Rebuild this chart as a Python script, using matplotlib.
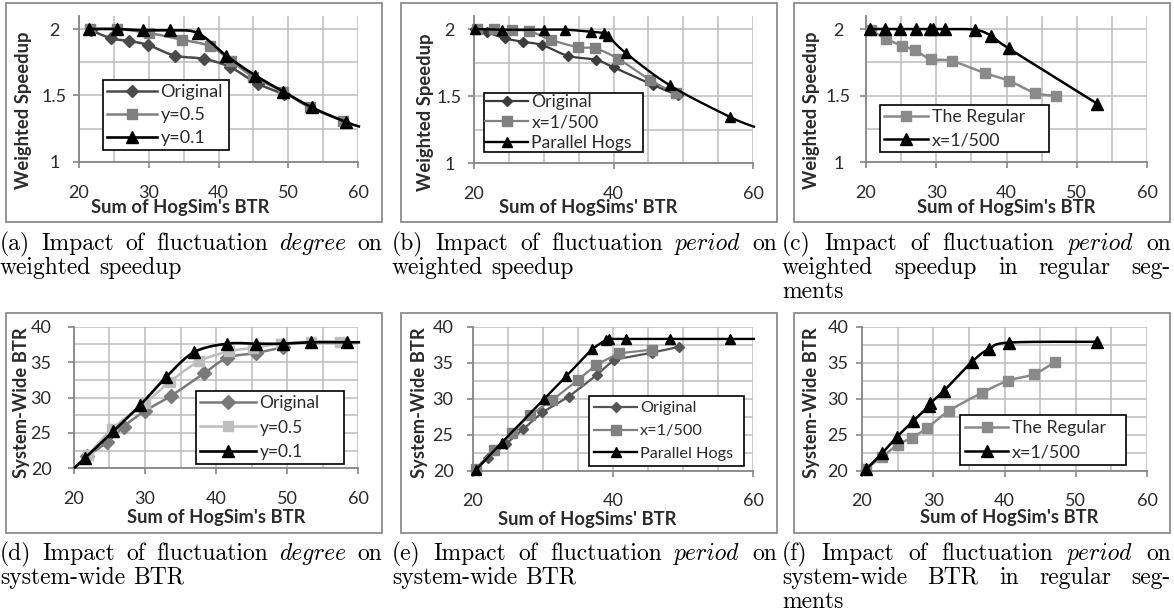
import numpy as np
import matplotlib
matplotlib.use("Agg")
import matplotlib.pyplot as plt
from matplotlib.lines import Line2D
from matplotlib.patches import Rectangle

# ---------------- data ----------------
# (a) fluctuation degree -> weighted speedup
A_ORIG_X = [21.7, 24.6, 27.1, 29.9, 33.7, 37.9, 41.6, 45.6, 49.4]
A_ORIG_Y = [1.99, 1.93, 1.91, 1.88, 1.80, 1.775, 1.715, 1.59, 1.51]
A_Y05_X = [21.6, 25.4, 30.0, 34.7, 38.8, 41.8, 45.0, 49.2, 53.1, 57.9]
A_Y05_Y = [2.0, 2.0, 1.97, 1.92, 1.87, 1.76, 1.64, 1.53, 1.41, 1.31]
A_Y01_X = [21.4, 25.5, 29.2, 33.0, 37.0, 41.1, 45.3, 49.3, 53.4, 58.3, 60.3]
A_Y01_Y = [2.0, 2.0, 1.99, 1.99, 1.97, 1.80, 1.65, 1.53, 1.41, 1.30, 1.265]

# (b) fluctuation period -> weighted speedup
B_ORIG_X = [20.2, 21.9, 24.5, 27.0, 29.8, 33.5, 37.5, 40.0, 45.6, 49.3]
B_ORIG_Y = [2.0, 1.975, 1.93, 1.905, 1.88, 1.80, 1.77, 1.715, 1.585, 1.505]
B_X500_X = [20.4, 22.9, 25.4, 27.9, 31.0, 34.9, 37.4, 40.6, 45.3, 48.9]
B_X500_Y = [2.0, 2.0, 1.99, 1.985, 1.92, 1.865, 1.855, 1.78, 1.62, 1.52]
B_PH_X = [20.2, 24.0, 30.0, 33.1, 36.8, 38.7, 39.2, 41.8, 48.1, 56.7, 60.3]
B_PH_Y = [2.0, 1.995, 1.995, 1.995, 1.98, 1.97, 1.95, 1.82, 1.58, 1.345, 1.27]

# (c) fluctuation period -> weighted speedup, regular segments
C_REG_X = [20.7, 22.9, 25.1, 27.0, 29.2, 32.2, 36.9, 40.4, 44.1, 47.0]
C_REG_Y = [1.99, 1.925, 1.875, 1.84, 1.775, 1.76, 1.67, 1.61, 1.52, 1.50]
C_X500_X = [20.5, 22.7, 24.9, 27.1, 29.1, 29.5, 31.3, 35.5, 37.8, 40.3, 52.9]
C_X500_Y = [2.0, 2.0, 2.0, 2.0, 2.0, 2.0, 2.0, 1.995, 1.95, 1.855, 1.44]

# (d) fluctuation degree -> system-wide BTR
D_ORIG_X = [21.9, 24.7, 27.0, 30.0, 33.6, 38.3, 41.6, 45.7, 49.4]
D_ORIG_Y = [21.8, 23.7, 25.9, 28.1, 30.2, 33.4, 35.6, 36.3, 37.1]
D_Y05_X = [20.0, 22.0, 25.4, 30.0, 33.5, 37.6, 41.8, 45.2, 49.1, 53.4, 57.4]
D_Y05_Y = [20.0, 21.9, 25.6, 29.2, 32.2, 35.1, 36.5, 37.0, 37.6, 37.9, 37.9]
D_Y01_X = [20.0, 21.5, 25.5, 29.3, 33.0, 36.9, 41.6, 45.7, 49.4, 53.4, 58.4, 60.3]
D_Y01_Y = [20.0, 21.4, 25.2, 28.9, 32.9, 36.4, 37.6, 37.6, 37.6, 37.8, 37.8, 37.8]

# (e) fluctuation period -> system-wide BTR
E_ORIG_X = [20.4, 22.1, 24.7, 27.2, 29.9, 33.7, 37.7, 40.1, 45.6, 49.4]
E_ORIG_Y = [20.2, 21.7, 23.7, 25.8, 28.1, 30.3, 33.3, 35.4, 36.4, 37.2]
E_X500_X = [20.4, 23.0, 25.6, 28.1, 31.3, 35.0, 37.6, 40.8, 45.5]
E_X500_Y = [20.3, 22.9, 25.3, 27.7, 29.8, 32.6, 34.7, 36.3, 36.8]
E_PH_X = [20.4, 24.1, 30.1, 33.3, 37.0, 39.0, 39.4, 41.9, 48.1, 56.7, 60.3]
E_PH_Y = [20.1, 23.9, 29.9, 33.1, 36.9, 38.2, 38.3, 38.3, 38.3, 38.3, 38.3]

# (f) fluctuation period -> system-wide BTR, regular segments
F_REG_X = [20.6, 22.8, 25.0, 27.0, 29.1, 32.2, 36.8, 40.5, 44.1, 47.1]
F_REG_Y = [20.3, 21.9, 23.6, 24.6, 25.9, 28.3, 30.8, 32.5, 33.4, 35.1]
F_X500_X = [20.6, 22.8, 24.9, 27.2, 29.4, 29.6, 31.5, 35.4, 37.8, 40.7, 53.0]
F_X500_Y = [20.2, 22.4, 24.7, 26.9, 29.0, 29.4, 31.1, 35.1, 36.9, 37.8, 37.9]

X_TICKS_FULL = [20, 30, 40, 50, 60]
X_TICKS_SPARSE = [20, 40, 60]
Y_TICKS_SPEEDUP = [1, 1.5, 2]
Y_TICK_LABELS_SPEEDUP = ["1", "1.5", "2"]
Y_TICKS_BTR = [20, 25, 30, 35, 40]

CAPTIONS = {
    "a": ["(a) Impact of fluctuation *degree* on", "weighted speedup"],
    "b": ["(b) Impact of fluctuation *period* on", "weighted speedup"],
    "c": ["(c) Impact of fluctuation *period* on", "weighted speedup in regular seg-", "ments"],
    "d": ["(d) Impact of fluctuation *degree* on", "system-wide BTR"],
    "e": ["(e) Impact of fluctuation *period* on", "system-wide BTR"],
    "f": ["(f) Impact of fluctuation *period* on", "system-wide BTR in regular seg-", "ments"],
}

# ---------------- figure ----------------
W, H = 1174, 616
plt.rcParams["font.family"] = ["Lato", "DejaVu Sans"]
fig = plt.figure(figsize=(W / 100, H / 100), dpi=100)
fig.patch.set_facecolor("white")
renderer = fig.canvas.get_renderer()


def fx(px):
    return px / W


def fy(py):
    return 1 - py / H


def text_size(s, fs, **kw):
    t = fig.text(0, 0, s, fontsize=fs, **kw)
    bb = t.get_window_extent(renderer)
    t.remove()
    return bb.width, bb.height


def cr_smooth(x, y, n=14):
    x = np.asarray(x, float)
    y = np.asarray(y, float)
    if len(x) < 3:
        return x, y
    P = np.column_stack([x, y])
    P = np.vstack([P[0], P, P[-1]])
    t = np.linspace(0, 1, n, endpoint=False)[:, None]
    out = []
    for i in range(1, len(P) - 2):
        p0, p1, p2, p3 = P[i - 1], P[i], P[i + 1], P[i + 2]
        pts = 0.5 * (2 * p1 + (-p0 + p2) * t + (2 * p0 - 5 * p1 + 4 * p2 - p3) * t ** 2
                     + (-p0 + 3 * p1 - 3 * p2 + p3) * t ** 3)
        out.append(pts)
    out.append(P[-2][None, :])
    out = np.vstack(out)
    return out[:, 0], out[:, 1]


DKG = "#4a4a4a"
MDG = "#808080"
LTG = "#bdbdbd"
BLK = "#000000"

# legend layout: (left px, top px, box width px, widest label, its width px, handle px, row pitch px, first row centre px)
# series: (x, y, label, color, marker, ms, lw, first_marker, last_marker_exclusive)
PANELS = [
    dict(key="a", box=(6, 3, 382, 222), area=(79, 15.7, 358, 162), ylim=(1, 2.1),
         yt=Y_TICKS_SPEEDUP, ytl=Y_TICK_LABELS_SPEEDUP, yminor=0.25, xt=X_TICKS_FULL,
         ylab="Weighted Speedup", ylab_pos=(24, 110), xlab="Sum of HogSim's BTR", xlab_pos=(180, 208),
         ytick_pad=13.7, ytick_ha="center", smooth=True,
         leg=(103, 80, 126, "Original", 62, 52, 23, 92),
         series=[(A_ORIG_X, A_ORIG_Y, "Original", DKG, "D", 5.8, 1.8, 0, None),
                 (A_Y05_X, A_Y05_Y, "y=0.5", MDG, "s", 6.5, 1.8, 0, None),
                 (A_Y01_X, A_Y01_Y, "y=0.1", BLK, "^", 8.0, 1.9, 0, -1)]),
    dict(key="b", box=(401, 3, 777, 222), area=(474, 15.6, 753, 163.3), ylim=(1, 2.1),
         yt=Y_TICKS_SPEEDUP, ytl=Y_TICK_LABELS_SPEEDUP, yminor=0.25, xt=X_TICKS_SPARSE,
         ylab="Weighted Speedup", ylab_pos=(425, 112), xlab="Sum of HogSims' BTR", xlab_pos=(588, 208),
         ytick_pad=13.7, ytick_ha="center", smooth=True,
         leg=(484, 93, 159, "Parallel Hogs", 100, 45, 20.5, 102),
         series=[(B_ORIG_X, B_ORIG_Y, "Original", "#3c3c3c", "D", 4.6, 1.6, 0, None),
                 (B_X500_X, B_X500_Y, "x=1/500", MDG, "s", 6.5, 1.6, 0, None),
                 (B_PH_X, B_PH_Y, "Parallel Hogs", BLK, "^", 7.5, 1.7, 0, -1)]),
    dict(key="c", box=(794, 3, 1170, 222), area=(866, 15.7, 1147, 162.3), ylim=(1, 2.1),
         yt=Y_TICKS_SPEEDUP, ytl=Y_TICK_LABELS_SPEEDUP, yminor=0.25, xt=X_TICKS_FULL,
         ylab="Weighted Speedup", ylab_pos=(812, 110), xlab="Sum of HogSim's BTR", xlab_pos=(1006, 207),
         ytick_pad=15.8, ytick_ha="center", smooth=True,
         leg=(880, 105, 169, "The Regular", 93, 46, 23, 117),
         series=[(C_REG_X, C_REG_Y, "The Regular", "#8a8a8a", "s", 6.5, 1.8, 0, None),
                 (C_X500_X, C_X500_Y, "x=1/500", BLK, "^", 8.0, 1.8, 0, None)]),
    dict(key="d", box=(6, 313, 382, 533), area=(74, 326.7, 358, 468.3), ylim=(20, 40),
         yt=Y_TICKS_BTR, ytl=[str(v) for v in Y_TICKS_BTR], yminor=2.5, xt=X_TICKS_FULL,
         ylab="System-Wide BTR", ylab_pos=(22, 403), xlab="Sum of HogSim's BTR", xlab_pos=(216, 518),
         ytick_pad=12.2, ytick_ha="right", smooth=True,
         leg=(196, 391, 148, "Original", 60, 58, 24.5, 403),
         series=[(D_ORIG_X, D_ORIG_Y, "Original", "#7a7a7a", "D", 6.8, 1.8, 0, None),
                 (D_Y05_X, D_Y05_Y, "y=0.5", LTG, "s", 6.8, 1.8, 1, None),
                 (D_Y01_X, D_Y01_Y, "y=0.1", BLK, "^", 8.0, 1.9, 1, -1)]),
    dict(key="e", box=(401, 313, 777, 533), area=(473, 326.7, 753, 470.7), ylim=(20, 40),
         yt=Y_TICKS_BTR, ytl=[str(v) for v in Y_TICKS_BTR], yminor=2.5, xt=X_TICKS_SPARSE,
         ylab="System-Wide BTR", ylab_pos=(420, 403), xlab="Sum of HogSims' BTR", xlab_pos=(587, 519),
         ytick_pad=10.0, ytick_ha="right", smooth=False,
         leg=(589, 396, 155, "Parallel Hogs", 93, 45, 22.5, 408),
         series=[(E_ORIG_X, E_ORIG_Y, "Original", "#555555", "D", 5.0, 1.6, 0, None),
                 (E_X500_X, E_X500_Y, "x=1/500", MDG, "s", 7.0, 1.6, 0, None),
                 (E_PH_X, E_PH_Y, "Parallel Hogs", BLK, "^", 6.5, 1.7, 0, -1)]),
    dict(key="f", box=(794, 313, 1170, 533), area=(862, 326.7, 1147, 470.7), ylim=(20, 40),
         yt=Y_TICKS_BTR, ytl=[str(v) for v in Y_TICKS_BTR], yminor=2.5, xt=X_TICKS_FULL,
         ylab="System-Wide BTR", ylab_pos=(812, 403), xlab="Sum of HogSim's BTR", xlab_pos=(1009, 518),
         ytick_pad=5.8, ytick_ha="right", smooth=True,
         leg=(960, 415, 166, "The Regular", 94, 45, 24, 428),
         series=[(F_REG_X, F_REG_Y, "The Regular", "#8a8a8a", "s", 6.5, 1.8, 0, None),
                 (F_X500_X, F_X500_Y, "x=1/500", BLK, "^", 8.0, 1.8, 0, None)]),
]

AXIS_C = "#868686"
GRID_C = "#bcbcbc"
TXT_C = "#2b2b2b"

for p in PANELS:
    bx0, by0, bx1, by1 = p["box"]
    fig.add_artist(Rectangle((fx(bx0), fy(by1)), (bx1 - bx0) / W, (by1 - by0) / H,
                             transform=fig.transFigure, fill=False, ec="#8c8c8c", lw=1.3))
    ax0, ay0, ax1, ay1 = p["area"]
    ax = fig.add_axes([fx(ax0), fy(ay1), (ax1 - ax0) / W, (ay1 - ay0) / H])
    ax.set_facecolor("none")
    ax.set_xlim(20, 60)
    ax.set_ylim(*p["ylim"])
    for s in ("top", "right"):
        ax.spines[s].set_visible(False)
    for s in ("left", "bottom"):
        ax.spines[s].set_color(AXIS_C)
        ax.spines[s].set_linewidth(1.3)
    ax.set_xticks(p["xt"])
    ax.set_xticks(np.arange(20, 60.01, 5), minor=True)
    ax.set_yticks(p["yt"])
    ax.set_yticklabels(p["ytl"])
    lo = p["ylim"][0]
    top = max(p["yt"])
    ax.set_yticks(np.arange(lo, top + 1e-9, p["yminor"]), minor=True)
    ax.grid(True, which="both", color=GRID_C, lw=1.1)
    ax.set_axisbelow(True)
    ax.tick_params(axis="both", which="major", direction="out", length=4, width=1.2,
                   color=AXIS_C, labelsize=13, labelcolor=TXT_C)
    ax.tick_params(axis="both", which="minor", length=0)
    ax.tick_params(axis="x", which="major", pad=12.2)
    ax.tick_params(axis="y", which="major", pad=p["ytick_pad"])
    for lbl in ax.get_yticklabels():
        lbl.set_horizontalalignment(p["ytick_ha"])

    handles = []
    for z, (xs, ys, label, col, mk, ms, lw, m0, m1) in enumerate(p["series"]):
        if p["smooth"]:
            sx, sy = cr_smooth(xs, ys)
        else:
            sx, sy = np.asarray(xs), np.asarray(ys)
        ax.plot(sx, sy, color=col, lw=lw, zorder=3 + 2 * z, clip_on=False,
                solid_joinstyle="round", solid_capstyle="butt")
        mx = np.asarray(xs)[m0:m1]
        my = np.asarray(ys)[m0:m1]
        ax.plot(mx, my, ls="none", marker=mk, ms=ms, color=col, mec=col, zorder=4 + 2 * z,
                clip_on=False)
        handles.append(Line2D([], [], color=col, lw=lw, marker=mk, ms=ms, mec=col, label=label))

    # legend sized so that its box, text and handles match the reference
    lx, ly, lw_box, wlab, wpx, hpx, pitch, row0 = p["leg"]
    w10, _ = text_size(wlab, 10)
    lfs = min(10 * wpx / w10, 14.2)
    fs_px = lfs / 0.72
    _, th = text_size("Original", lfs)
    lsp = max(0.0, (pitch - th) / fs_px)
    bpad = max(0.05, (row0 - ly - th / 2) / fs_px)
    leg = ax.legend(handles=handles, loc="upper left",
                    bbox_to_anchor=(fx(lx), fy(ly + 10), lw_box / W, 10 / H),
                    bbox_transform=fig.transFigure, borderaxespad=0, mode="expand",
                    fontsize=lfs, handlelength=(hpx - 2) / fs_px, handletextpad=0.2,
                    labelspacing=lsp, borderpad=bpad,
                    fancybox=False, framealpha=1, edgecolor="black", frameon=True,
                    labelcolor=TXT_C)
    leg.get_frame().set_linewidth(1.2)
    leg.set_zorder(20)

    fig.text(fx(p["ylab_pos"][0]), fy(p["ylab_pos"][1]), p["ylab"], rotation=90,
             ha="center", va="center", fontsize=13.2, fontweight="bold", color=TXT_C)
    fig.text(fx(p["xlab_pos"][0]), fy(p["xlab_pos"][1]), p["xlab"],
             ha="center", va="center", fontsize=13.2, fontweight="bold", color=TXT_C)

# ---------------- captions (justified, Computer Modern) ----------------
CAP_COLS = {"a": (0, 382), "b": (392, 777), "c": (782, 1171),
            "d": (0, 382), "e": (392, 777), "f": (782, 1171)}
CAP_BASE = {"a": 250, "b": 250, "c": 250, "d": 560, "e": 560, "f": 560}
CAP_FS = 17.0
CAP_LEAD = 24

for key, lines in CAPTIONS.items():
    x0, x1 = CAP_COLS[key]
    for li, line in enumerate(lines):
        base = CAP_BASE[key] + li * CAP_LEAD
        words = line.split(" ")
        arts = []
        for w in words:
            ital = w.startswith("*") and w.endswith("*")
            txt = w.strip("*")
            t = fig.text(0, fy(base), txt, fontsize=CAP_FS, va="baseline", ha="left",
                         family="cmmi10" if ital else "cmr10", color="black")
            arts.append(t)
        widths = [a.get_window_extent(renderer).width for a in arts]
        justify = li < len(lines) - 1
        if justify and len(arts) > 1:
            gap = (x1 - x0 - sum(widths)) / (len(arts) - 1)
        else:
            gap = CAP_FS / 0.72 * 0.333
        xp = x0
        for a, wd in zip(arts, widths):
            a.set_x(fx(xp))
            xp += wd + gap

fig.savefig("out.png", dpi=100, facecolor="white")
